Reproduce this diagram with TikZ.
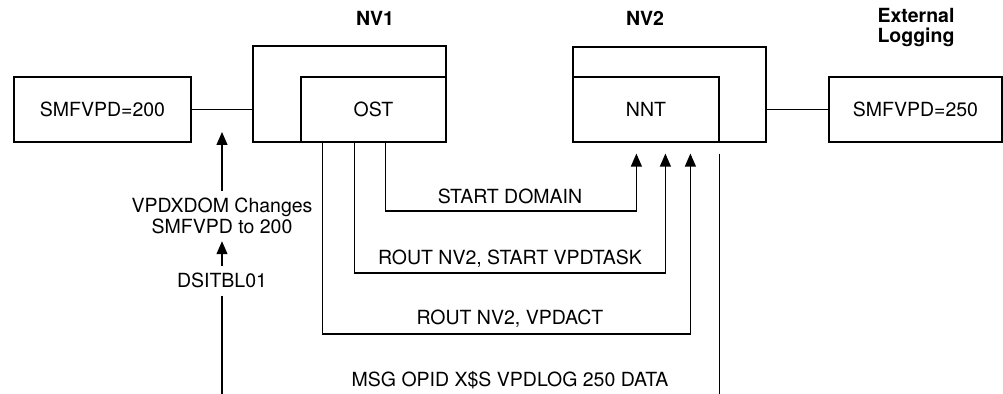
\documentclass[tikz,border=0pt]{standalone}
\usepackage{fontspec}
\setmainfont{TeX Gyre Heros}
\usetikzlibrary{arrows.meta}

\begin{document}
\begin{tikzpicture}[x=0.5pt,y=-0.5pt,
    every path/.style={line width=0.6pt},
    font=\fontsize{9.75}{10.5}\selectfont,
    box/.style={draw, inner sep=0pt, minimum height=32.5pt},
    title/.style={font=\fontsize{9.75}{10}\selectfont\bfseries, align=center},
    arr/.style={-{Triangle[length=6.5pt,width=5.5pt]}}]
        \useasboundingbox (0,0) rectangle (1003,394);
        \node[box, minimum width=96.5pt, minimum height=48pt] (nv1) at (349.5,94) {};
        \node[box, minimum width=72.5pt] (ost) at (373.5,109.5) {OST};
        \node[box, minimum width=96.5pt, minimum height=47.5pt] (nv2) at (669.5,94.5) {};
        \node[box, minimum width=73pt] (nnt) at (646,109.5) {NNT};
        \node[box, minimum width=88.5pt] (smfa) at (102.5,109.5) {SMFVPD=200};
        \node[box, minimum width=86.5pt] (smfb) at (915.5,109.5) {SMFVPD=250};
        \node[title] (tnv1) at (375,18) {NV1};
        \node[title] (tnv2) at (645,18) {NV2};
        \node[title] (text) at (916,28) {External\\Logging};
        \draw (smfa.east) -- (smfa.east -| nv1.west);
        \draw (nv2.east |- smfb.west) -- (smfb.west);
        \node[align=center] (vpdx) at (222,216) {VPDXDOM Changes\\SMFVPD to 200};
        \node[anchor=base] (dsit) at (222,288) {DSITBL01};
        \coordinate (chg) at (222,132);
        \coordinate (bot) at (0,394);
        \draw[arr] (vpdx.north) -- (chg);
        \draw[arr] (dsit.north) -- (vpdx.south);
        \draw (dsit.south) -- (dsit.south |- bot);
        \coordinate (o1) at ([xshift=11pt]ost.south west);
        \coordinate (o2) at ([xshift=27pt]ost.south west);
        \coordinate (o3) at ([xshift=42.5pt]ost.south west);
        \coordinate (n1) at ([xshift=32pt,yshift=-5.5pt]nnt.south west);
        \coordinate (n2) at ([xshift=46.5pt,yshift=-5.5pt]nnt.south west);
        \coordinate (n3) at ([xshift=59pt,yshift=-5.5pt]nnt.south west);
        \coordinate (n4) at ([yshift=-5.5pt]nnt.south east);
        \coordinate (r1) at (0,211);
        \coordinate (r2) at (0,273);
        \coordinate (r3) at (0,334);
        \draw[arr] (o3) |- (n1 |- r1) -- (n1);
        \draw[arr] (o2) |- (n2 |- r2) -- (n2);
        \draw[arr] (o1) |- (n3 |- r3) -- (n3);
        \draw (n4) -- (n4 |- bot);
        \node[anchor=base] (lsd) at (510,204) {START DOMAIN};
        \node[anchor=base] (lvt) at (510,265) {ROUT NV2, START VPDTASK};
        \node[anchor=base] (lva) at (510,325) {ROUT NV2, VPDACT};
        \node[anchor=base] (lmsg) at (510,387) {MSG OPID X\$S VPDLOG 250 DATA};
    \end{tikzpicture}
\end{document}
